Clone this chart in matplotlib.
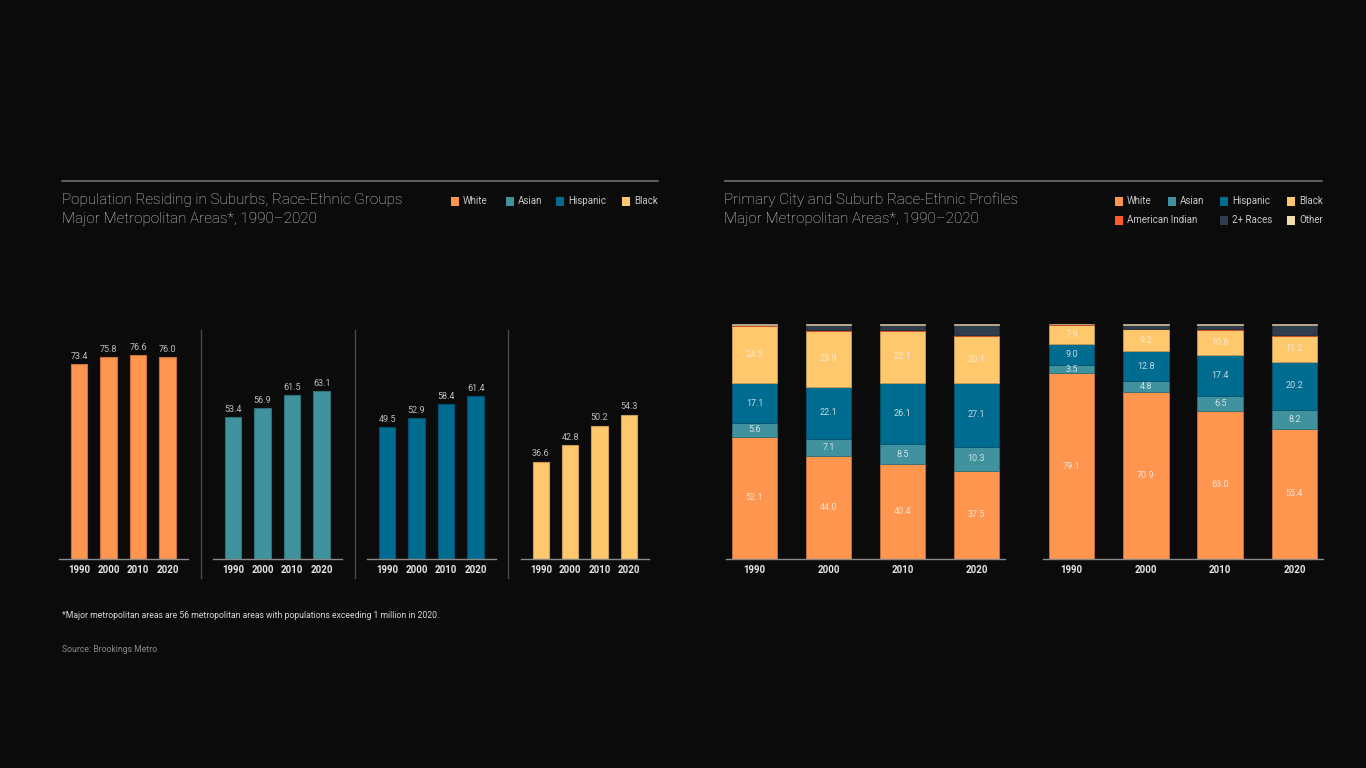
import matplotlib
matplotlib.use("Agg")
import matplotlib.pyplot as plt
from matplotlib.lines import Line2D
from matplotlib.patches import Rectangle
import numpy as np

# 데이터
years = ['1990', '2000', '2010', '2020']
groups = ['White', 'Asian', 'Hispanic', 'Black']
suburb_share = {
    'White':    [73.4, 75.8, 76.6, 76.0],
    'Asian':    [53.4, 56.9, 61.5, 63.1],
    'Hispanic': [49.5, 52.9, 58.4, 61.4],
    'Black':    [36.6, 42.8, 50.2, 54.3],
}

profile_groups = ['White', 'Asian', 'Hispanic', 'Black', 'American Indian', '2+ Races', 'Other']
city_white    = [52.1, 44.0, 40.4, 37.5]
city_asian    = [5.6, 7.1, 8.5, 10.3]
city_hispanic = [17.1, 22.1, 26.1, 27.1]
city_black    = [24.5, 23.9, 22.1, 20.1]
city_amind    = [0.4, 0.3, 0.3, 0.3]
city_multi    = [0.0, 2.2, 2.2, 4.3]
city_other    = [0.3, 0.4, 0.4, 0.4]

sub_white    = [79.1, 70.9, 63.0, 55.4]
sub_asian    = [3.5, 4.8, 6.5, 8.2]
sub_hispanic = [9.0, 12.8, 17.4, 20.2]
sub_black    = [7.9, 9.2, 10.6, 11.2]
sub_amind    = [0.3, 0.3, 0.3, 0.3]
sub_multi    = [0.0, 1.7, 1.9, 4.1]
sub_other    = [0.2, 0.3, 0.3, 0.6]

colors = {
    'White': '#ff9650', 'Asian': '#3f929e', 'Hispanic': '#006c90', 'Black': '#ffc86c',
    'American Indian': '#ff5a2e', '2+ Races': '#303d4c', 'Other': '#f3dcb0',
}
edges = {
    'White': '#c8713a', 'Asian': '#2f6f78', 'Hispanic': '#005270', 'Black': '#c89c55',
    'American Indian': '#c84522', '2+ Races': '#252f3a', 'Other': '#bfae8c',
}

BG = '#0b0b0b'
W, H = 1366, 768
plt.rcParams['font.family'] = ['Roboto', 'DejaVu Sans']

fig = plt.figure(figsize=(W / 100, H / 100), dpi=100, facecolor=BG)

def fx(x):
    return x / W

def fy(y):
    return 1 - y / H

def add_ax(x0, x1, y0, y1):
    ax = fig.add_axes([fx(x0), fy(y1), fx(x1 - x0), (y1 - y0) / H])
    ax.set_facecolor('none')
    for s in ['top', 'right', 'left']:
        ax.spines[s].set_visible(False)
    ax.spines['bottom'].set_color('#8a8a8a')
    ax.spines['bottom'].set_linewidth(1.0)
    ax.set_yticks([])
    ax.tick_params(axis='x', length=0, pad=4, labelsize=7, labelcolor='#e6e6e6')
    return ax

def legend_item(x, y, label):
    fig.add_artist(Rectangle((fx(x), fy(y + 5)), 8 / W, 9 / H, transform=fig.transFigure,
                             facecolor=colors[label], edgecolor='none'))
    fig.text(fx(x + 12), fy(y), label, color='#c8c8c8', fontsize=7, va='center', ha='left')

# 상단 구분선과 제목
fig.add_artist(Line2D([fx(62), fx(658)], [fy(181), fy(181)], color='#6e6e6e', lw=1.2))
fig.add_artist(Line2D([fx(725), fx(1322)], [fy(181), fy(181)], color='#6e6e6e', lw=1.2))
title_kw = dict(color='#d6d6d6', fontsize=11, fontweight='light', va='center')
fig.text(fx(62), fy(200), 'Population Residing in Suburbs, Race-Ethnic Groups', **title_kw)
fig.text(fx(62), fy(219), 'Major Metropolitan Areas*, 1990\u20132020', **title_kw)
fig.text(fx(724), fy(200), 'Primary City and Suburb Race-Ethnic Profiles', **title_kw)
fig.text(fx(724), fy(219), 'Major Metropolitan Areas*, 1990\u20132020', **title_kw)

# 범례
for xpos, g in zip([451, 506, 556, 622], groups):
    legend_item(xpos, 201, g)
for xpos, g in zip([1115, 1168, 1220, 1287], groups):
    legend_item(xpos, 201, g)
for xpos, g in zip([1115, 1220, 1287], profile_groups[4:]):
    legend_item(xpos, 220, g)

# 왼쪽: 그룹별 교외 거주 비율
x = np.arange(len(years))
panel_x = [(59, 188), (213, 342), (367, 496), (521, 649)]
for (x0, x1), g in zip(panel_x, groups):
    ax = add_ax(x0, x1, 325, 559)
    vals = suburb_share[g]
    ax.bar(x, vals, width=0.56, color=colors[g], edgecolor=edges[g], linewidth=0.8)
    for xi, v in zip(x, vals):
        ax.text(xi, v + 1.2, f'{v:.1f}', ha='center', va='bottom', fontsize=6.5, color='#bdbdbd')
    ax.set_xticks(x)
    ax.set_xticklabels(years, fontweight='bold')
    ax.set_xlim(-0.68, 3.69)
    ax.set_ylim(0, 88)

for xs in [201, 355, 508]:
    fig.add_artist(Line2D([fx(xs), fx(xs)], [fy(330), fy(578)], color='#4a4a4a', lw=1.0))

# 오른쪽: 도시/교외 인종 구성 누적 막대
def stacked(ax, series):
    bottom = np.zeros(len(years))
    for name, vals in zip(profile_groups, series):
        vals = np.array(vals)
        ax.bar(x, vals, width=0.61, bottom=bottom, color=colors[name],
               edgecolor=edges[name], linewidth=0.6)
        if name in groups:
            for xi, b, v in zip(x, bottom, vals):
                ax.text(xi, b + v / 2, f'{v:.1f}', ha='center', va='center',
                        fontsize=6.5, color='#f4f4f4', alpha=0.8)
        bottom += vals
    ax.set_xticks(x)
    ax.set_xticklabels(years, fontweight='bold')
    ax.set_xlim(-0.385, 3.385)
    ax.set_ylim(0, 100)

ax_city = add_ax(726, 1005, 324, 559)
stacked(ax_city, [city_white, city_asian, city_hispanic, city_black, city_amind, city_multi, city_other])
ax_sub = add_ax(1043, 1323, 324, 559)
stacked(ax_sub, [sub_white, sub_asian, sub_hispanic, sub_black, sub_amind, sub_multi, sub_other])

# 주석
fig.text(fx(62), fy(616), '*Major metropolitan areas are 56 metropolitan areas with populations exceeding 1 million in 2020.',
         color='#d8d8d8', fontsize=6.2, va='center')
fig.text(fx(62), fy(649), 'Source: Brookings Metro', color='#8a8a8a', fontsize=6.2, va='center')

fig.savefig('out.png', dpi=100, facecolor=BG)
